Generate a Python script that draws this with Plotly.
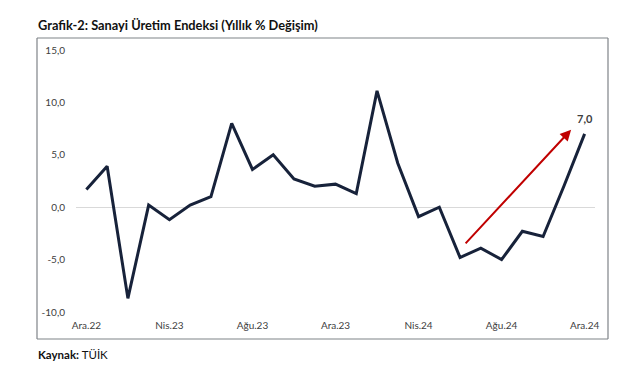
import plotly.graph_objects as go

months = list(range(25))  # Ara.22 .. Ara.24
values = [1.7, 3.9, -8.7, 0.2, -1.2, 0.2, 1.0, 8.0, 3.6, 5.0, 2.7, 2.0, 2.2,
          1.3, 11.1, 4.2, -0.9, 0.0, -4.8, -3.9, -5.0, -2.3, -2.8, 2.0, 7.0]
x_tick_pos = [0, 4, 8, 12, 16, 20, 24]
x_tick_labels = ["Ara.22", "Nis.23", "Ağu.23", "Ara.23", "Nis.24", "Ağu.24", "Ara.24"]
y_tick_vals = [-10, -5, 0, 5, 10, 15]
y_tick_labels = ["-10,0", "-5,0", "0,0", "5,0", "10,0", "15,0"]
last_label = "7,0"

FONT = "Lato, Open Sans, sans-serif"
fig = go.Figure()
fig.add_trace(go.Scatter(x=months, y=values, mode="lines",
                         line=dict(color="#17223a", width=3), showlegend=False,
                         hoverinfo="skip"))

W, H = 641, 380
L, R, T, B = 76, 46, 50, 68
pw, ph = W - L - R, H - T - B

def px_x(p):
    return (p - L) / pw

def px_y(p):
    return (H - B - p) / ph

bx0, bx1, by0, by1 = px_x(37), px_x(608), px_y(339), px_y(38)
for (a, b, c, d) in [(bx0, by0, bx1, by0), (bx0, by1, bx1, by1),
                     (bx0, by0, bx0, by1), (bx1, by0, bx1, by1)]:
    fig.add_shape(type="line", xref="paper", yref="paper", x0=a, y0=b, x1=c, y1=d,
                  line=dict(color="#7f8388", width=1.2), layer="above")

# red trend arrow
fig.add_annotation(x=23.35, y=7.4, ax=18.2, ay=-3.6, xref="x", yref="y",
                   axref="x", ayref="y", showarrow=True, arrowhead=2,
                   arrowsize=1.1, arrowwidth=2, arrowcolor="#c00000", text="")
fig.add_annotation(x=months[-1], y=values[-1], text="<b>" + last_label + "</b>",
                   showarrow=False, yshift=15, xshift=0,
                   font=dict(family=FONT, size=11, color="#404040"))

fig.add_annotation(xref="paper", yref="paper", x=px_x(36), y=px_y(25),
                   xanchor="left", yanchor="middle", showarrow=False,
                   text="<b>Grafik-2: Sanayi Üretim Endeksi (Yıllık % Değişim)</b>",
                   font=dict(family=FONT, size=12.8, color="#111111"))
fig.add_annotation(xref="paper", yref="paper", x=px_x(36), y=px_y(355),
                   xanchor="left", yanchor="middle", showarrow=False,
                   text="<b>Kaynak:</b> TÜİK",
                   font=dict(family=FONT, size=11.5, color="#111111"))

fig.update_layout(
    width=W, height=H, margin=dict(l=L, r=R, t=T, b=B, pad=0, autoexpand=False),
    plot_bgcolor="white", paper_bgcolor="white",
    font=dict(family=FONT, size=10, color="#404040"),
    xaxis=dict(range=[-0.5, 24.5], tickvals=x_tick_pos, ticktext=x_tick_labels,
               showgrid=False, zeroline=False, showline=False, ticks="",
               ticklabelstandoff=6, fixedrange=True, automargin=False),
    yaxis=dict(range=[-10, 15], tickvals=y_tick_vals, ticktext=y_tick_labels,
               showgrid=False, zeroline=True, zerolinecolor="#d9d9d9",
               zerolinewidth=1, showline=False, ticks="", ticklabelstandoff=10,
               fixedrange=True, automargin=False),
)
fig.write_html("out.html", config={"displayModeBar": False, "staticPlot": True},
               post_script="document.body.style.margin='0';document.body.style.overflow='hidden';")
